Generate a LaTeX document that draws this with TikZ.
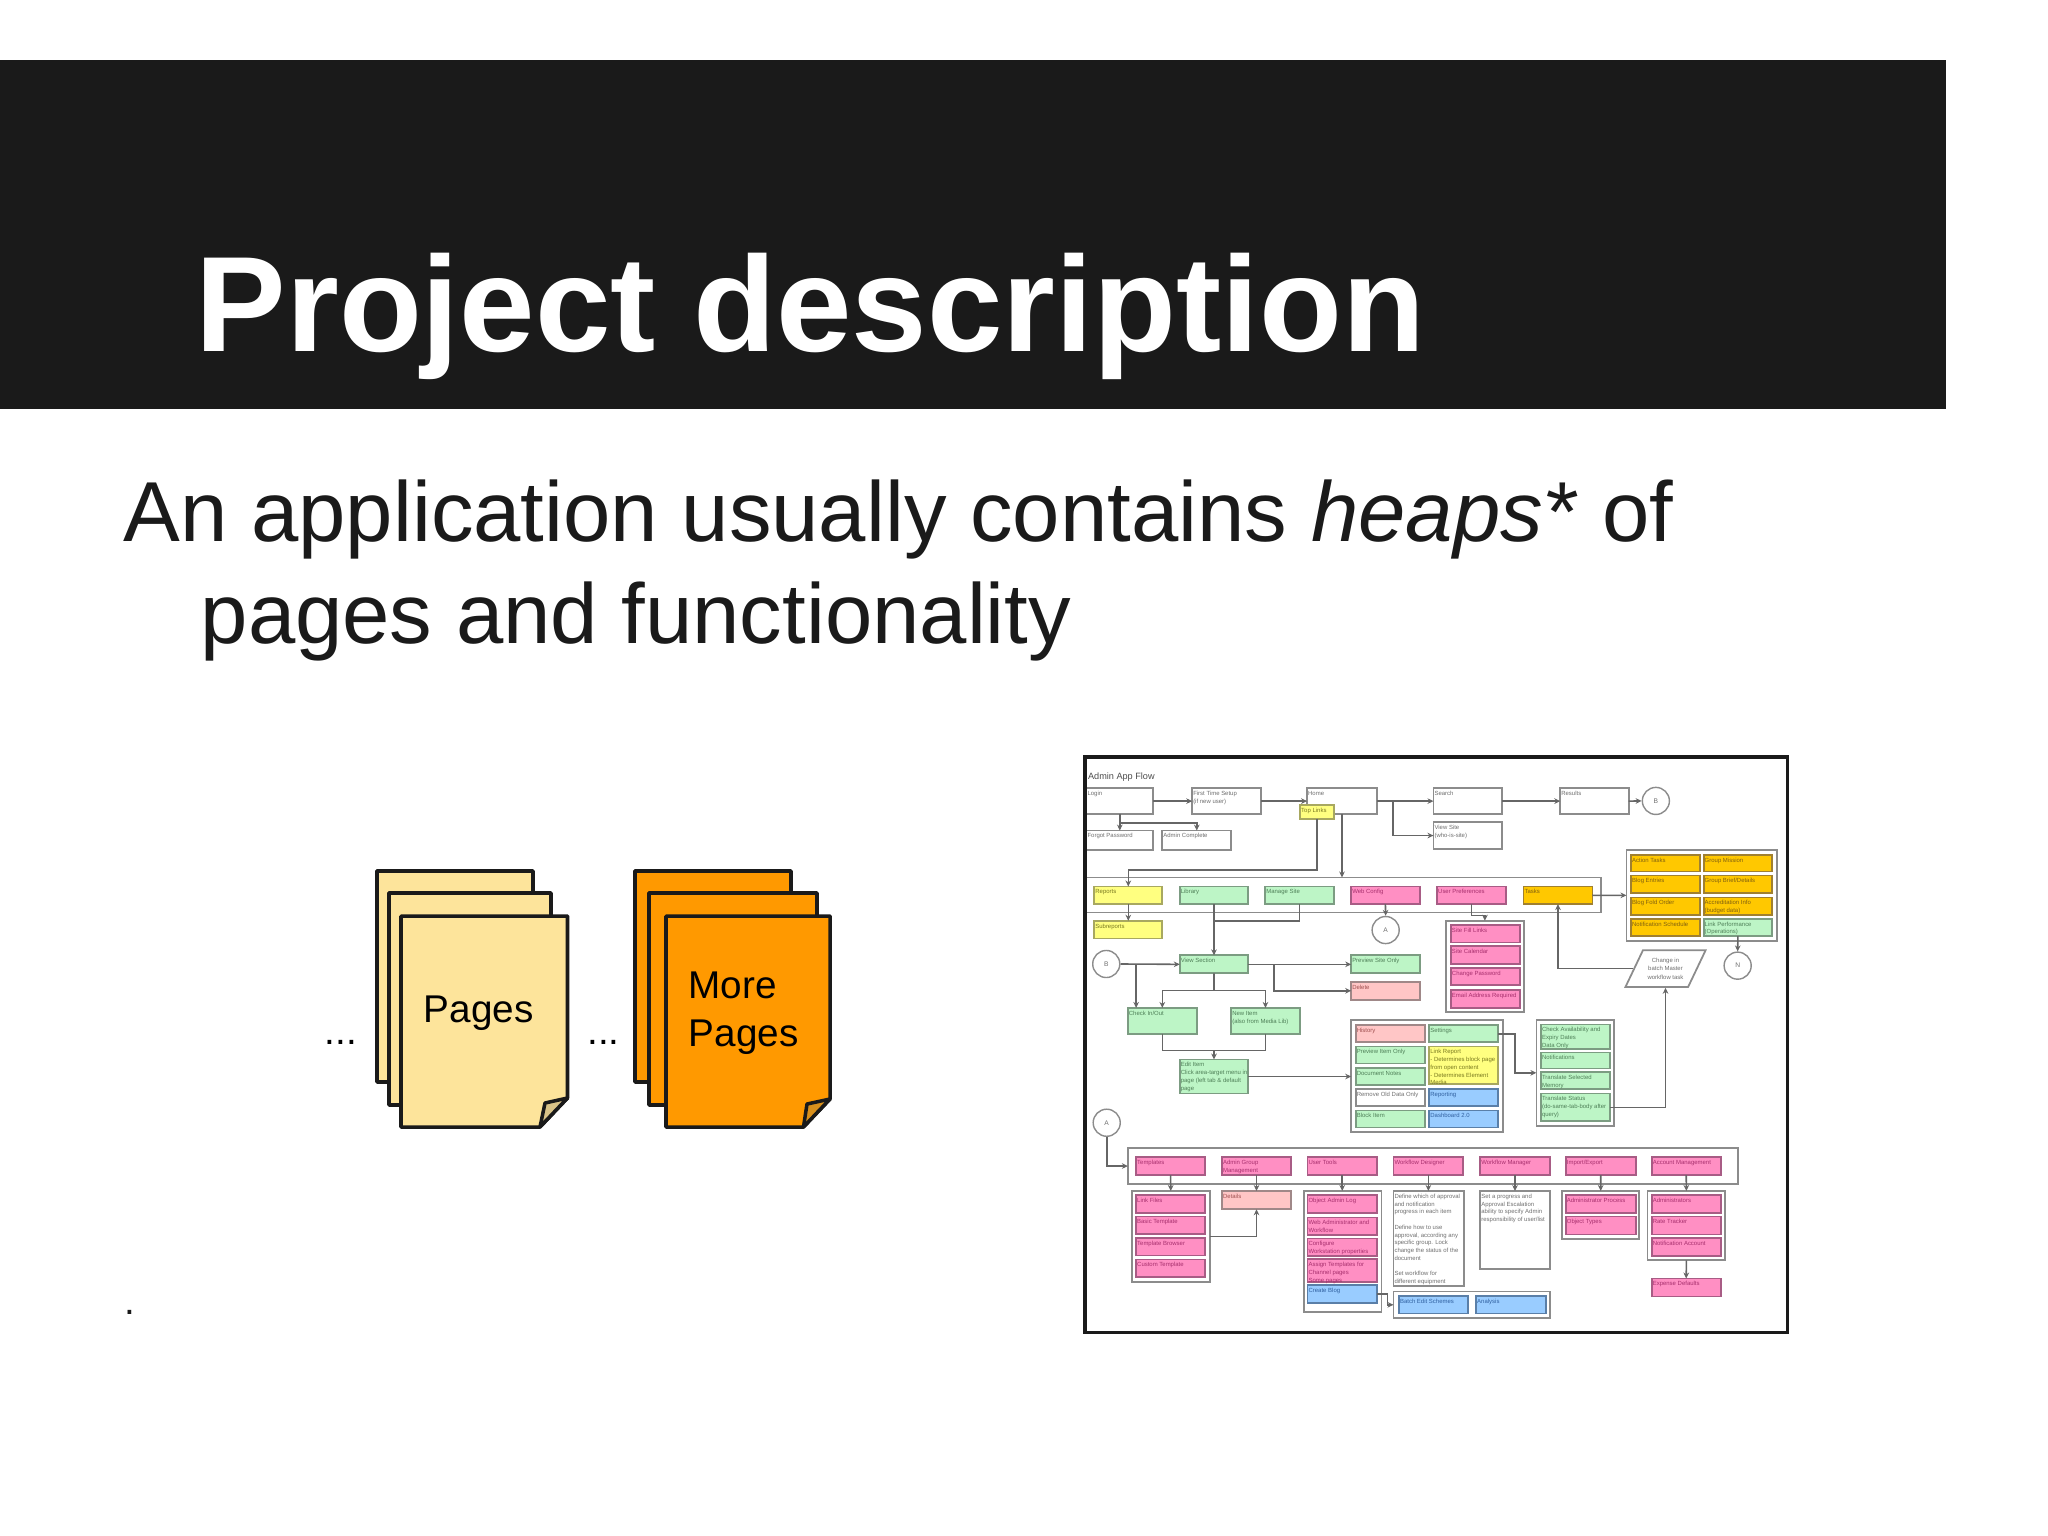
\documentclass[tikz,border=0pt]{standalone}
\usepackage{fontspec}
\setmainfont{Liberation Sans}
\usetikzlibrary{shapes.geometric,arrows.meta}
\definecolor{barblack}{HTML}{1A1A1A}
\definecolor{pagelight}{HTML}{FDE49B}
\definecolor{pagelightfold}{HTML}{D9C388}
\definecolor{pageorange}{HTML}{FF9900}
\definecolor{pageorangefold}{HTML}{D8901C}
\definecolor{flowline}{HTML}{8C8C8C}
\definecolor{flowtext}{HTML}{707070}
\definecolor{flowgreenfill}{HTML}{BDF5C6}
\definecolor{flowgreendraw}{HTML}{7C9C82}
\definecolor{flowgreentext}{HTML}{4F8058}
\definecolor{flowpinkfill}{HTML}{FF8FC3}
\definecolor{flowpinkdraw}{HTML}{A85C85}
\definecolor{flowpinktext}{HTML}{A8306E}
\definecolor{flowyellowfill}{HTML}{FFFF80}
\definecolor{flowyellowdraw}{HTML}{A8A860}
\definecolor{flowyellowtext}{HTML}{7A7A20}
\definecolor{floworangefill}{HTML}{FFC800}
\definecolor{floworangedraw}{HTML}{A08030}
\definecolor{floworangetext}{HTML}{806010}
\definecolor{flowbluefill}{HTML}{99CCFF}
\definecolor{flowbluedraw}{HTML}{5A7FA8}
\definecolor{flowbluetext}{HTML}{3060A0}
\definecolor{flowredfill}{HTML}{FFC6C6}
\definecolor{flowreddraw}{HTML}{A08888}
\definecolor{flowredtext}{HTML}{A05050}
\tikzset{
  flowplain/.style={draw=flowline,fill=white,text=flowtext},
  flowcont/.style={draw=flowline,fill=white,text=flowtext},
  flowgreen/.style={draw=flowgreendraw,fill=flowgreenfill,text=flowgreentext},
  flowpink/.style={draw=flowpinkdraw,fill=flowpinkfill,text=flowpinktext},
  flowyellow/.style={draw=flowyellowdraw,fill=flowyellowfill,text=flowyellowtext},
  floworange/.style={draw=floworangedraw,fill=floworangefill,text=floworangetext},
  flowblue/.style={draw=flowbluedraw,fill=flowbluefill,text=flowbluetext},
  flowred/.style={draw=flowreddraw,fill=flowredfill,text=flowredtext},
  flowcirc/.style={circle,draw=flowline,fill=white,text=flowtext,minimum size=7.7pt,inner sep=0pt,font=\fontsize{1.9}{2.7}\selectfont},
  flowarr/.style={-{Stealth[length=1.7pt,width=1.6pt]},draw=black!60,line width=0.45pt},
  flowjoin/.style={draw=black!60,line width=0.45pt},
  sheet/.style={draw=barblack,line width=1pt,line join=round},
}
% box given by its corners in the units of the flow chart
\newcommand{\flowbox}[7]{%
  \pgfmathsetmacro{\flowwd}{(#5-#3)*0.13062}%
  \pgfmathsetmacro{\flowht}{(#6-#4)*0.09483}%
  \node[#2,line width=0.5pt,anchor=north west,outer sep=0pt,inner xsep=0.3pt,inner ysep=0pt,font=\fontsize{1.7}{2.2}\selectfont] (#1) at (#3,#4)
    {\parbox[c][\flowht pt][t]{\dimexpr\flowwd pt-0.6pt\relax}{\raggedright\rule{0pt}{2.1pt}#7}};%
}
\begin{document}
\begin{tikzpicture}[x=0.01cm,y=-0.01cm,>=stealth]
\useasboundingbox (0,0) rectangle (2048,1536);
\fill[barblack] (0,60) rectangle (1946,409);
\node[anchor=base west,inner sep=0pt,text=white,font=\fontsize{38.6}{46}\selectfont\bfseries] (title) at (195,351) {Project description};
\node[anchor=base west,inner sep=0pt,text=barblack,font=\fontsize{24.2}{29}\selectfont] (bodya) at (123,541) {An application usually contains \textit{heaps*} of};
\node[anchor=base west,inner sep=0pt,text=barblack,font=\fontsize{24.2}{29}\selectfont] (bodyb) at (200,643) {pages and functionality};
\node[anchor=base west,inner sep=0pt,text=barblack,font=\fontsize{11}{13}\selectfont] (dot) at (124,1314) {.};

% the two stacks of pages
\draw[sheet,fill=pagelight] (377,871) rectangle (533,1082);
\draw[sheet,fill=pagelight] (389,893) rectangle (551,1105);
\draw[sheet,fill=pagelight] (401,916)--(567.5,916)--(567.5,1098)--(540,1127)--(401,1127)--cycle;
\draw[sheet,fill=pagelightfold] (567.5,1098)--(545,1103)--(540,1127)--cycle;
\draw[sheet,fill=pageorange] (635,871) rectangle (791,1082);
\draw[sheet,fill=pageorange] (649,893) rectangle (817,1105);
\draw[sheet,fill=pageorange] (666,916)--(830,916)--(830,1099)--(803.5,1127)--(666,1127)--cycle;
\draw[sheet,fill=pageorangefold] (830,1099)--(807,1104)--(803.5,1127)--cycle;
\node[anchor=base west,inner sep=0pt,font=\fontsize{11}{13.6}\selectfont] (pages) at (423,1022) {Pages};
\node[anchor=base west,inner sep=0pt,font=\fontsize{11}{13.6}\selectfont] (morea) at (688,998) {More};
\node[anchor=base west,inner sep=0pt,font=\fontsize{11}{13.6}\selectfont] (moreb) at (688,1046) {Pages};
\node[anchor=base,inner sep=0pt,font=\fontsize{11}{13.6}\selectfont] (dotsa) at (341,1044) {...};
\node[anchor=base,inner sep=0pt,font=\fontsize{11}{13.6}\selectfont] (dotsb) at (603.5,1044) {...};

% the flow chart
\begin{scope}[shift={(1075,745)},x=0.004591cm,y=-0.003333cm]
\node[anchor=base west,inner sep=0pt,text=black!70,font=\fontsize{2.6}{3}\selectfont] (flowtitle) at (27,105) {Admin App Flow};
\flowbox{login}{flowplain}{25}{130}{170}{207}{Login}
\flowbox{first}{flowplain}{255}{130}{405}{207}{First Time Setup\\(if new user)}
\flowbox{home}{flowplain}{505}{130}{657}{207}{Home}
\flowbox{search}{flowplain}{780}{130}{930}{207}{Search}
\flowbox{results}{flowplain}{1056}{130}{1205}{207}{Results}
\flowbox{toplinks}{flowyellow}{490}{180}{563}{222}{Top Links}
\flowbox{forgot}{flowplain}{25}{257}{170}{316}{Forgot Password}
\flowbox{admin}{flowplain}{190}{257}{340}{316}{Admin Complete}
\flowbox{viewsite}{flowplain}{780}{232}{930}{312}{View Site\\(who-is-site)}
\node[flowcirc] (circtop) at (1264,168) {B};
\flowbox{band}{flowcont}{25}{398}{1145}{503}{}
\flowbox{reports}{flowyellow}{42}{425}{190}{478}{Reports}
\flowbox{library}{flowgreen}{228}{425}{377}{478}{Library}
\flowbox{manage}{flowgreen}{414}{425}{563}{478}{Manage Site}
\flowbox{webconfig}{flowpink}{601}{425}{750}{478}{Web Config}
\flowbox{userpref}{flowpink}{788}{425}{938}{478}{User Preferences}
\flowbox{tasks}{floworange}{976}{425}{1126}{478}{Tasks}
\flowbox{subreports}{flowyellow}{42}{528}{190}{581}{Subreports}
\node[flowcirc] (circa) at (676,556) {A};
\flowbox{prefstack}{flowcont}{807}{528}{977}{802}{}
\flowbox{preffill}{flowpink}{818}{540}{968}{593}{Site Fill Links}
\flowbox{prefcal}{flowpink}{818}{605}{968}{657}{Site Calendar}
\flowbox{prefpass}{flowpink}{818}{670}{968}{722}{Change Password}
\flowbox{prefmail}{flowpink}{818}{737}{968}{790}{Email Address Required}
\flowbox{taskgrid}{flowcont}{1200}{315}{1527}{588}{}
\flowbox{taskaction}{floworange}{1210}{330}{1360}{380}{Action Tasks}
\flowbox{taskgroup}{floworange}{1368}{330}{1517}{380}{Group Mission}
\flowbox{taskblog}{floworange}{1210}{392}{1360}{445}{Blog Entries}
\flowbox{taskbrief}{floworange}{1368}{392}{1517}{445}{Group Brief/Details}
\flowbox{taskfold}{floworange}{1210}{458}{1360}{510}{Blog Fold Order}
\flowbox{taskaccr}{floworange}{1368}{458}{1517}{510}{Accreditation Info\\(budget data)}
\flowbox{tasknote}{floworange}{1210}{522}{1360}{574}{Notification Schedule}
\flowbox{taskperf}{flowgreen}{1368}{522}{1517}{574}{Link Performance\\(Operations)}
\node[flowcirc] (circn) at (1442,663) {N};
\node[trapezium,trapezium stretches=true,trapezium left angle=57,trapezium right angle=123,draw=flowline,fill=white,text=flowtext,line width=0.5pt,minimum width=22.8pt,minimum height=10.4pt,inner sep=0pt,align=center,font=\fontsize{1.7}{2.4}\selectfont] (changes) at (1285,672) {Change in\\batch Master\\workflow task};
\node[flowcirc] (circb) at (68,658) {B};
\flowbox{viewsec}{flowgreen}{228}{632}{377}{686}{View Section}
\flowbox{preview}{flowgreen}{601}{632}{750}{686}{Preview Site Only}
\flowbox{delete}{flowred}{601}{712}{750}{765}{Delete}
\flowbox{checkin}{flowgreen}{115}{790}{265}{868}{Check In/Out}
\flowbox{newitem}{flowgreen}{340}{790}{489}{868}{New Item\\(also from Media Lib)}
\flowbox{edititem}{flowgreen}{228}{945}{377}{1047}{Edit Item\\Click area-target menu in\\page (left tab \& default\\page}
\flowbox{itemgrid}{flowcont}{601}{827}{931}{1162}{}
\flowbox{history}{flowred}{611}{842}{761}{893}{History}
\flowbox{settings}{flowgreen}{771}{842}{920}{893}{Settings}
\flowbox{itemonly}{flowgreen}{611}{906}{761}{957}{Preview Item Only}
\flowbox{linkrep}{flowyellow}{771}{906}{920}{1019}{Link Report\\- Determines block page\\from open content\\- Determines Element\\Media}
\flowbox{docnotes}{flowgreen}{611}{970}{761}{1021}{Document Notes}
\flowbox{removeold}{flowplain}{611}{1034}{761}{1085}{Remove Old Data Only}
\flowbox{reporting}{flowblue}{771}{1034}{920}{1085}{Reporting}
\flowbox{blockitem}{flowgreen}{611}{1098}{761}{1149}{Block Item}
\flowbox{dashboard}{flowblue}{771}{1098}{920}{1149}{Dashboard 2.0}
\flowbox{transgrid}{flowcont}{1004}{827}{1173}{1145}{}
\flowbox{transcheck}{flowgreen}{1014}{840}{1164}{913}{Check Availability and\\Expiry Dates\\Data Only}
\flowbox{transnote}{flowgreen}{1014}{924}{1164}{972}{Notifications}
\flowbox{transmem}{flowgreen}{1014}{983}{1164}{1033}{Translate Selected\\Memory}
\flowbox{transstat}{flowgreen}{1014}{1047}{1164}{1130}{Translate Status\\(do-same-tab-body after\\query)}
\node[flowcirc] (circc) at (69,1135) {A};
\flowbox{lowband}{flowcont}{115}{1212}{1443}{1318}{}
\flowbox{templates}{flowpink}{133}{1238}{283}{1292}{Templates}
\flowbox{admingroup}{flowpink}{320}{1238}{470}{1292}{Admin Group\\Management}
\flowbox{usertools}{flowpink}{506}{1238}{657}{1292}{User Tools}
\flowbox{wfdesign}{flowpink}{693}{1238}{845}{1292}{Workflow Designer}
\flowbox{wfmanage}{flowpink}{882}{1238}{1033}{1292}{Workflow Manager}
\flowbox{impexp}{flowpink}{1068}{1238}{1220}{1292}{Import/Export}
\flowbox{account}{flowpink}{1255}{1238}{1405}{1292}{Account Management}
\flowbox{tmplstack}{flowcont}{124}{1340}{293}{1613}{}
\flowbox{tmpllink}{flowpink}{133}{1353}{283}{1406}{Link Files}
\flowbox{tmplbasic}{flowpink}{133}{1417}{283}{1470}{Basic Template}
\flowbox{tmplbrowse}{flowpink}{133}{1481}{283}{1534}{Template Browser}
\flowbox{tmplcustom}{flowpink}{133}{1546}{283}{1599}{Custom Template}
\flowbox{details}{flowred}{320}{1340}{470}{1395}{Details}
\flowbox{toolstack}{flowcont}{498}{1340}{667}{1702}{}
\flowbox{toolobject}{flowpink}{506}{1353}{657}{1407}{Object Admin Log}
\flowbox{toolweb}{flowpink}{506}{1420}{657}{1473}{Web Administrator and\\Workflow}
\flowbox{toolconf}{flowpink}{506}{1483}{657}{1535}{Configure\\Workstation properties}
\flowbox{toolassign}{flowpink}{506}{1545}{657}{1613}{Assign Templates for\\Channel pages\\Some pages}
\flowbox{toolblog}{flowblue}{506}{1623}{657}{1677}{Create Blog}
\flowbox{wftext}{flowplain}{693}{1340}{846}{1625}{Define which of approval\\and notification\\progress in each item\\[2.2pt]Define how to use\\approval, according any\\specific group. Lock\\change the status of the\\document\\[2.2pt]Set workflow for\\different equipment}
\flowbox{mgtext}{flowplain}{882}{1340}{1033}{1573}{Set a progress and\\Approval Escalation\\ability to specify Admin\\responsibility of user/list}
\flowbox{impstack}{flowcont}{1060}{1340}{1228}{1483}{}
\flowbox{impadmin}{flowpink}{1068}{1353}{1220}{1407}{Administrator Process}
\flowbox{impobject}{flowpink}{1068}{1417}{1220}{1471}{Object Types}
\flowbox{acctstack}{flowcont}{1246}{1340}{1415}{1548}{}
\flowbox{acctadmin}{flowpink}{1255}{1353}{1405}{1407}{Administrators}
\flowbox{acctrate}{flowpink}{1255}{1417}{1405}{1471}{Rate Tracker}
\flowbox{acctnote}{flowpink}{1255}{1481}{1405}{1535}{Notification Account}
\flowbox{expense}{flowpink}{1255}{1603}{1405}{1657}{Expense Defaults}
\flowbox{bluegrid}{flowcont}{693}{1642}{1033}{1722}{}
\flowbox{batchedit}{flowblue}{705}{1655}{856}{1708}{Batch Edit Schemes}
\flowbox{analysis}{flowblue}{873}{1655}{1025}{1708}{Analysis}
\coordinate (loginjoin) at (97.5,235);
\coordinate (homejoin) at (692,168);
\coordinate (libjoin) at (302.5,528);
\coordinate (viewjoin) at (302.5,738);
\coordinate (mediajoin) at (433,659);
\coordinate (circjoin) at (133,658);
\coordinate (editjoin) at (302.5,918);
\coordinate (transin) at (1004,985);
\draw[flowarr] (login.east)--(first.west);
\draw[flowarr] (first.east)--(home.west);
\draw[flowarr] (login.south)--(forgot.north);
\draw[flowarr] (loginjoin) -| (admin.north);
\draw[flowarr] (home.east)--(search.west);
\draw[flowarr] (homejoin) |- (viewsite.west);
\draw[flowarr] (search.east)--(results.west);
\draw[flowarr] (results.east)--(circtop.west);
\draw[flowarr] (toplinks.south) -- ++(0,153) -| (reports.north);
\draw[flowarr] (home.south)--(home.south |- band.north);
\draw[flowarr] (reports.south)--(subreports.north);
\draw[flowarr] (webconfig.south)--(circa.north);
\draw[flowarr] (userpref.south) -- ++(0,34) -| (prefstack.north);
\draw[flowarr] (library.south)--(viewsec.north);
\draw[flowjoin] (manage.south) |- (libjoin);
\draw[flowarr] (tasks.east)--(taskgrid.west);
\draw[flowarr] (changes.west) -| (tasks.south);
\draw[flowarr] (taskperf.south)--(circn.north);
\draw[flowarr] (circb.east)--(viewsec.west);
\draw[flowarr] (circjoin)--(circjoin |- checkin.north);
\draw[flowarr] (viewsec.east)--(preview.west);
\draw[flowarr] (mediajoin) |- (delete.west);
\draw[flowjoin] (viewsec.south)--(viewjoin);
\draw[flowarr] (viewjoin) -| (checkin.north);
\draw[flowarr] (viewjoin) -| (newitem.north);
\draw[flowjoin] (checkin.south) |- (editjoin);
\draw[flowjoin] (newitem.south) |- (editjoin);
\draw[flowarr] (editjoin)--(edititem.north);
\draw[flowarr] (edititem.east)--(edititem.east -| itemgrid.west);
\draw[flowarr] (settings.east) -- ++(38,0) |- (transin);
\draw[flowarr] (transstat.east) -| (changes.south);
\draw[flowarr] (circc.south) |- (lowband.west);
\draw[flowarr] (templates.south)--(tmplstack.north);
\draw[flowarr] (admingroup.south)--(details.north);
\draw[flowarr] (usertools.south)--(usertools.south |- toolstack.north);
\draw[flowarr] (wfdesign.south)--(wfdesign.south |- wftext.north);
\draw[flowarr] (wfmanage.south)--(mgtext.north);
\draw[flowarr] (impexp.south)--(impstack.north);
\draw[flowarr] (account.south)--(acctstack.north);
\draw[flowarr] (tmplstack.east) -| (details.south);
\draw[flowarr] (acctstack.south)--(expense.north);
\draw[flowarr] (toolblog.east) -- ++(23,0) |- (bluegrid.west);
\end{scope}
\node[draw=barblack,line width=1pt,minimum width=199.7pt,minimum height=163.6pt,inner sep=0pt,outer sep=0pt,anchor=north west] (frame) at (1085,757) {};
\end{tikzpicture}
\end{document}
